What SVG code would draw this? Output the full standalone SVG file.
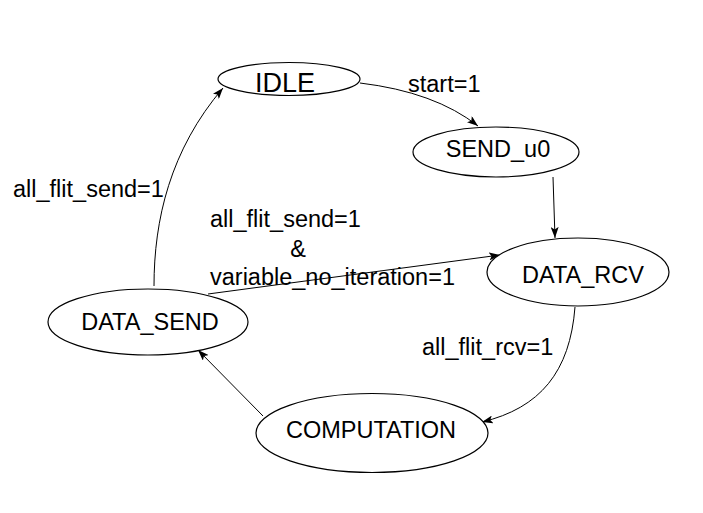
<svg xmlns="http://www.w3.org/2000/svg" width="703" height="513" viewBox="0 0 703 513">
<defs>
<style>
.node ellipse{fill:#fff;stroke:#000;stroke-width:1.2}
text{font-family:"Liberation Sans",Arial,sans-serif;font-size:23.5px;fill:#000}
.nl{text-anchor:middle}
.edges path{fill:none;stroke:#000;stroke-width:1}
</style>
<marker id="ah" markerWidth="12" markerHeight="8" refX="11" refY="4" orient="auto" markerUnits="userSpaceOnUse">
<path d="M0,0 L11,4 L0,8 L2.5,4 z" fill="#000"/>
</marker>
</defs>
<rect width="703" height="513" fill="#fff"/>
<g class="edges" id="connectors">
<path d="M360,83 Q435,92 478,126" marker-end="url(#ah)"/>
<path d="M553,177 L555,238" marker-end="url(#ah)"/>
<path d="M208,294 L500,255" marker-end="url(#ah)"/>
<path d="M575,307 C570,372 540,408 482,422" marker-end="url(#ah)"/>
<path d="M263,416 L198,350" marker-end="url(#ah)"/>
<path d="M154,286 C154,220 170,150 223,88" marker-end="url(#ah)"/>
</g>
<g id="edge-labels">
<text x="408" y="92">start=1</text>
<text x="13" y="197">all_flit_send=1</text>
<text x="210" y="227">all_flit_send=1</text>
<text x="298" y="257" class="nl">&amp;</text>
<text x="210" y="285">variable_no_iteration=1</text>
<text x="422" y="355">all_flit_rcv=1</text>
</g>
<g class="node" id="IDLE">
<ellipse cx="289" cy="79" rx="71" ry="16.5"/>
<text x="285" y="92" class="nl" style="font-size:27px">IDLE</text>
</g>
<g class="node" id="SEND_u0">
<ellipse cx="496" cy="152" rx="83" ry="25"/>
<text x="498" y="157" class="nl">SEND_u0</text>
</g>
<g class="node" id="DATA_RCV">
<ellipse cx="578" cy="272" rx="91" ry="34"/>
<text x="583" y="283" class="nl">DATA_RCV</text>
</g>
<g class="node" id="DATA_SEND">
<ellipse cx="148" cy="322" rx="100" ry="33"/>
<text x="150" y="330" class="nl">DATA_SEND</text>
</g>
<g class="node" id="COMPUTATION">
<ellipse cx="372" cy="433" rx="116" ry="39.5"/>
<text x="371" y="438" class="nl">COMPUTATION</text>
</g>
</svg>
